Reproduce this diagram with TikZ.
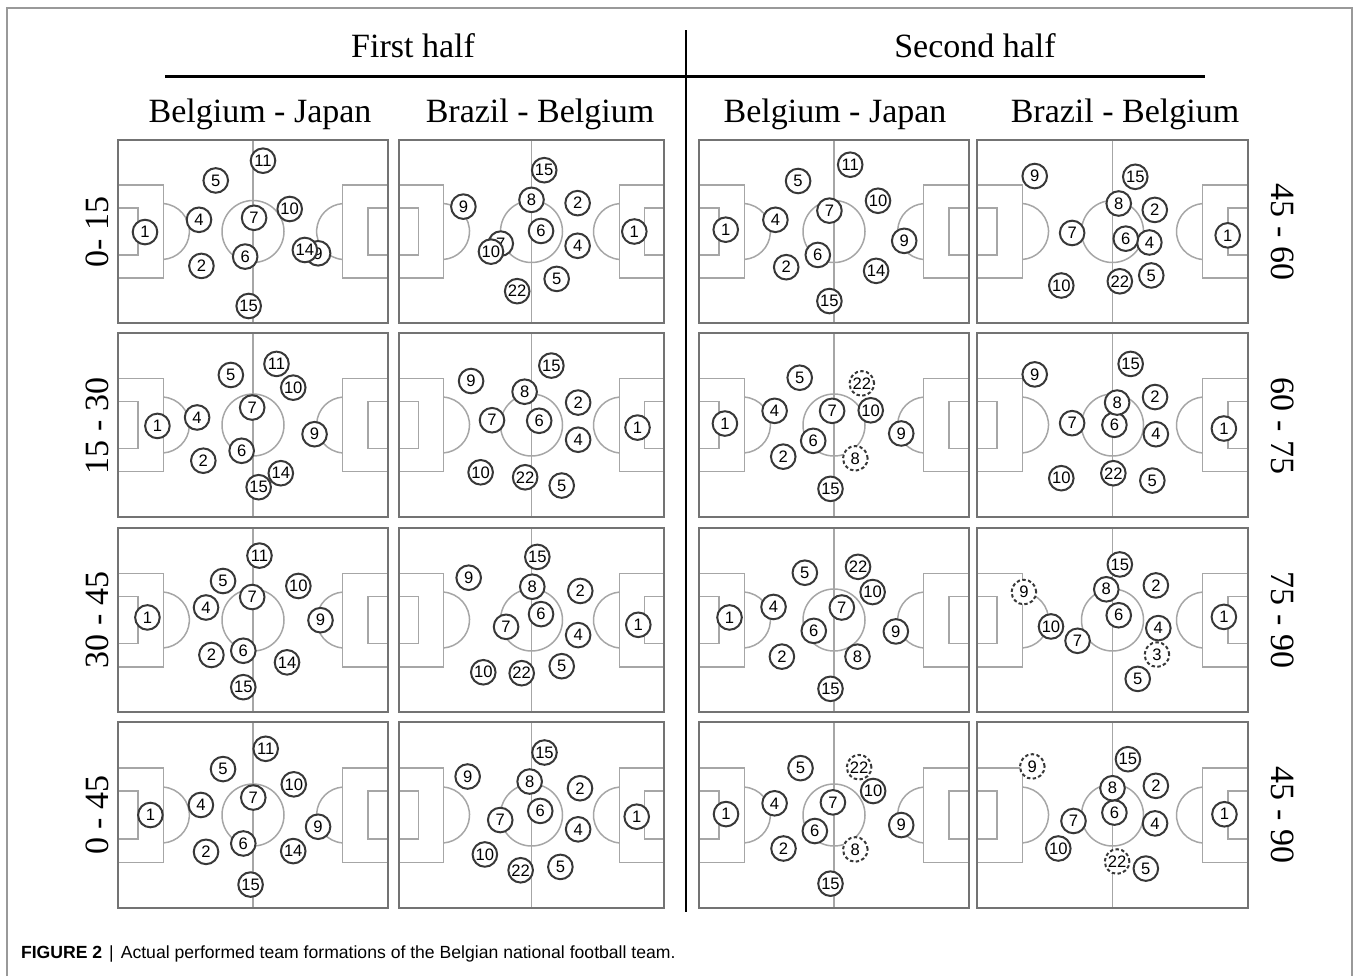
\documentclass[tikz,border=0pt]{standalone}
\usepackage{fontspec}
\setmainfont{Liberation Serif}
\newfontfamily\numfont{Liberation Sans}
\newfontfamily\capfont{Liberation Sans}
\usetikzlibrary{positioning}

\tikzset{
  pl/.style={circle, draw=black!78, fill=white, line width=1pt, inner sep=0pt,
    minimum size=12.3pt, font=\numfont\fontsize{8.3}{9}\selectfont},
  sub/.style={pl, dash pattern=on 1.7pt off 1.2pt},
  fline/.style={draw=black!35, line width=0.75pt},
  border/.style={draw=black!55, line width=0.8pt},
  head/.style={font=\fontsize{17}{20}\selectfont},
}

% name, x, y, width, height, players (x/y/number/style)
\newcommand{\drawpitch}[6]{%
  \begin{scope}[shift={(#2,#3)}]
    \draw[fline] ({#4/2},0) -- ({#4/2},#5);
    \draw[fline] ({#4/2},{#5/2}) circle[radius=31];
    \draw[fline] (0,{0.246*#5}) rectangle ({0.168*#4},{0.754*#5});
    \draw[fline] (0,{0.372*#5}) rectangle ({0.074*#4},{0.628*#5});
    \draw[fline] (#4,{0.246*#5}) rectangle ({0.832*#4},{0.754*#5});
    \draw[fline] (#4,{0.372*#5}) rectangle ({0.926*#4},{0.628*#5});
    \draw[fline] ({0.168*#4-2},{#5/2}) ++(-85.9:28) arc[start angle=-85.9, end angle=85.9, radius=28];
    \draw[fline] ({0.832*#4+2},{#5/2}) ++(94.1:28) arc[start angle=94.1, end angle=265.9, radius=28];
    \draw[border] (0,0) rectangle (#4,#5);
    \foreach \px/\py/\n/\s in {#6}
      \node[\s] (#1-\n) at ({\px*#4},{\py*#5}) {\n};
  \end{scope}}

\begin{document}
\begin{tikzpicture}[x=0.5pt, y=-0.5pt]
\useasboundingbox (0,0) rectangle (1354,976);
\draw[black!40, line width=0.6pt] (7,976) -- (7,8) -- (1352,8) -- (1352,976);

\node[head, anchor=base] (first) at (413,57) {First half};
\node[head, anchor=base] (second) at (975,57) {Second half};
\coordinate (rule-l) at (165,76);
\coordinate (rule-r) at (1205,76);
\draw[line width=1.5pt] (rule-l) -- (rule-r);
\coordinate (div-t) at (686,30);
\coordinate (div-b) at (686,912);
\draw[line width=1.2pt] (div-t) -- (div-b);

\node[head, anchor=base] (bj1) at (260,122) {Belgium - Japan};
\node[head, anchor=base] (bb1) at (540,122) {Brazil - Belgium};
\node[head, anchor=base] (bj2) at (835,122) {Belgium - Japan};
\node[head, anchor=base] (bb2) at (1125,122) {Brazil - Belgium};

\node[head, rotate=90] (t1) at (97,232) {0- 15};
\node[head, rotate=90] (t2) at (97,426) {15 - 30};
\node[head, rotate=90] (t3) at (97,620) {30 - 45};
\node[head, rotate=90] (t4) at (97,815) {0 - 45};
\node[head, rotate=-90] (t5) at (1283,232) {45 - 60};
\node[head, rotate=-90] (t6) at (1283,426) {60 - 75};
\node[head, rotate=-90] (t7) at (1283,620) {75 - 90};
\node[head, rotate=-90] (t8) at (1283,815) {45 - 90};

\drawpitch{a1}{118}{140}{270}{183}{.100/.503/1/pl, .300/.436/4/pl, .309/.688/2/pl, .362/.221/5/pl, .504/.425/7/pl, .471/.637/6/pl, .537/.113/11/pl, .636/.377/10/pl, .741/.619/9/pl, .692/.601/14/pl, .484/.907/15/pl}
\drawpitch{b1}{399}{140}{265}{183}{.888/.500/1/pl, .674/.345/2/pl, .674/.578/4/pl, .595/.759/5/pl, .536/.497/6/pl, .500/.327/8/pl, .548/.165/15/pl, .243/.364/9/pl, .384/.566/7/pl, .347/.610/10/pl, .446/.826/22/pl}
\drawpitch{c1}{699}{140}{270}{183}{.099/.490/1/pl, .283/.436/4/pl, .323/.695/2/pl, .367/.224/5/pl, .483/.386/7/pl, .440/.628/6/pl, .560/.135/11/pl, .663/.332/10/pl, .760/.551/9/pl, .656/.715/14/pl, .483/.880/15/pl}
\drawpitch{d1}{977}{140}{271}{183}{.925/.521/1/pl, .656/.382/2/pl, .636/.560/4/pl, .643/.740/5/pl, .549/.539/6/pl, .523/.347/8/pl, .584/.201/15/pl, .213/.197/9/pl, .351/.508/7/pl, .311/.795/10/pl, .527/.772/22/pl}

\drawpitch{a2}{118}{333}{270}{184}{.146/.505/1/pl, .293/.459/4/pl, .316/.694/2/pl, .418/.228/5/pl, .497/.405/7/pl, .458/.640/6/pl, .587/.168/11/pl, .649/.297/10/pl, .728/.550/9/pl, .603/.762/14/pl, .521/.838/15/pl}
\drawpitch{b2}{399}{333}{265}{184}{.900/.514/1/pl, .676/.378/2/pl, .676/.580/4/pl, .614/.829/5/pl, .529/.477/6/pl, .474/.319/8/pl, .575/.177/15/pl, .272/.261/9/pl, .351/.474/7/pl, .308/.757/10/pl, .476/.784/22/pl}
\drawpitch{c2}{699}{333}{270}{184}{.096/.492/1/pl, .280/.423/4/pl, .312/.672/2/pl, .373/.243/5/pl, .493/.423/7/pl, .423/.586/6/pl, .636/.420/10/pl, .749/.546/9/pl, .487/.847/15/pl, .603/.274/22/sub, .579/.681/8/sub}
\drawpitch{d2}{977}{333}{271}{184}{.911/.519/1/pl, .657/.348/2/pl, .660/.550/4/pl, .647/.802/5/pl, .507/.499/6/pl, .517/.378/8/pl, .567/.168/15/pl, .213/.225/9/pl, .351/.490/7/pl, .311/.789/10/pl, .503/.762/22/pl}

\drawpitch{a3}{118}{528}{270}{184}{.109/.486/1/pl, .326/.432/4/pl, .346/.690/2/pl, .389/.288/5/pl, .497/.375/7/pl, .464/.667/6/pl, .524/.150/11/pl, .668/.315/10/pl, .750/.501/9/pl, .626/.730/14/pl, .464/.865/15/pl}
\drawpitch{b3}{399}{528}{265}{184}{.903/.526/1/pl, .684/.342/2/pl, .676/.582/4/pl, .614/.751/5/pl, .536/.468/6/pl, .503/.319/8/pl, .522/.157/15/pl, .263/.270/9/pl, .404/.537/7/pl, .318/.784/10/pl, .463/.789/22/pl}
\drawpitch{c3}{699}{528}{270}{184}{.113/.486/1/pl, .276/.429/4/pl, .307/.699/2/pl, .392/.243/5/pl, .529/.432/7/pl, .425/.559/6/pl, .589/.211/22/pl, .643/.348/10/pl, .729/.562/9/pl, .587/.699/8/pl, .487/.874/15/pl}
\drawpitch{d3}{977}{528}{271}{184}{.911/.483/1/pl, .660/.312/2/pl, .669/.544/4/pl, .593/.820/5/pl, .523/.474/6/pl, .477/.333/8/pl, .527/.198/15/pl, .173/.348/9/sub, .371/.613/7/pl, .273/.535/10/pl, .664/.688/3/sub}

\drawpitch{a4}{118}{722}{270}{186}{.120/.500/1/pl, .307/.446/4/pl, .326/.698/2/pl, .389/.253/5/pl, .501/.406/7/pl, .464/.653/6/pl, .547/.144/11/pl, .651/.335/10/pl, .741/.563/9/pl, .649/.694/14/pl, .491/.874/15/pl}
\drawpitch{b4}{399}{722}{265}{186}{.897/.509/1/pl, .683/.356/2/pl, .676/.577/4/pl, .609/.779/5/pl, .533/.478/6/pl, .493/.320/8/pl, .549/.164/15/pl, .259/.293/9/pl, .382/.527/7/pl, .324/.712/10/pl, .459/.797/22/pl}
\drawpitch{c4}{699}{722}{270}{186}{.100/.495/1/pl, .280/.437/4/pl, .313/.680/2/pl, .376/.248/5/pl, .496/.432/7/pl, .429/.586/6/pl, .593/.243/22/sub, .645/.371/10/pl, .749/.554/9/pl, .487/.869/15/pl, .579/.685/8/sub}
\drawpitch{d4}{977}{722}{271}{186}{.913/.496/1/pl, .660/.343/2/pl, .657/.545/4/pl, .623/.788/5/pl, .507/.487/6/pl, .500/.356/8/pl, .557/.200/15/pl, .204/.239/9/sub, .356/.532/7/pl, .300/.680/10/pl, .517/.750/22/sub}

\node[anchor=base west, font=\capfont\fontsize{8.8}{10}\selectfont] (caption) at (14,958)
  {{\bfseries FIGURE 2}\hspace{3.5pt}|\hspace{3.5pt}Actual performed team formations of the Belgian national football team.};
\end{tikzpicture}
\end{document}
